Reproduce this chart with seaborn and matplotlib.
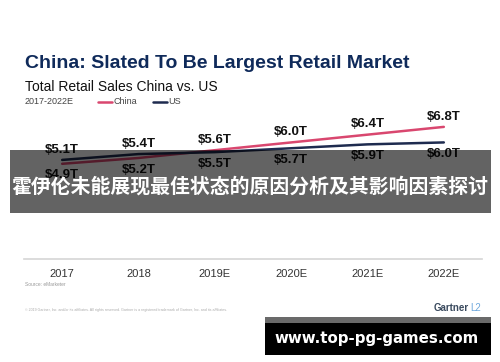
import matplotlib
matplotlib.use("Agg")
import matplotlib.pyplot as plt
import matplotlib.patches as mpatches
import pandas as pd
import seaborn as sns

# data
years = ["2017", "2018", "2019E", "2020E", "2021E", "2022E"]
china = [4.9, 5.2, 5.6, 6.0, 6.4, 6.8]
us = [5.1, 5.4, 5.5, 5.7, 5.9, 6.0]

PINK = "#d9476f"
NAVY = "#1e2b4f"

df = pd.DataFrame({
    "year": years * 2,
    "x": list(range(len(years))) * 2,
    "sales": china + us,
    "series": ["China"] * len(years) + ["US"] * len(years),
})

sns.set_theme(style="white")
plt.rcParams["font.family"] = ["Liberation Sans", "DejaVu Sans"]

W, H = 500, 362
fig = plt.figure(figsize=(W / 100, H / 100), dpi=100)
ax = fig.add_axes([24 / W, 1 - 259 / H, (482 - 24) / W, (259 - 123) / H])

sns.lineplot(data=df, x="x", y="sales", hue="series",
             palette={"China": PINK, "US": NAVY}, linewidth=1.8,
             legend=False, ax=ax)

ax.set_xlim(-0.5, len(years) - 0.5)
ax.set_ylim(0, 7)
ax.set_xticks(range(len(years)))
ax.set_xticklabels(years, fontsize=8, color="#333333")
ax.tick_params(axis="x", length=0, pad=7)
ax.set_yticks([])
ax.set_xlabel("")
ax.set_ylabel("")
for s in ["top", "left", "right"]:
    ax.spines[s].set_visible(False)
ax.spines["bottom"].set_color("#d5d5d5")
ax.spines["bottom"].set_linewidth(1.2)

# value labels: higher one above, lower one below
for i in range(len(years)):
    hi, lo = max(china[i], us[i]), min(china[i], us[i])
    ax.annotate(f"${hi:.1f}T", (i, hi), xytext=(0, 3), textcoords="offset points",
                ha="center", va="bottom", fontsize=9.5, fontweight="bold", color="#111111")
    ax.annotate(f"${lo:.1f}T", (i, lo), xytext=(0, -4), textcoords="offset points",
                ha="center", va="top", fontsize=9.5, fontweight="bold", color="#111111")

def fx(px):
    return px / W

def fy(py):
    return 1 - py / H

fig.text(fx(25), fy(63), "China: Slated To Be Largest Retail Market", fontsize=14,
         fontweight="bold", color="#0f2a5a", va="center", ha="left")
fig.text(fx(25), fy(87), "Total Retail Sales China vs. US", fontsize=10,
         color="#111111", va="center", ha="left")
fig.text(fx(25), fy(102), "2017-2022E", fontsize=6.5, color="#444444", va="center", ha="left")
fig.add_artist(plt.Line2D([fx(98), fx(112)], [fy(102), fy(102)], color=PINK, lw=1.8))
fig.text(fx(113), fy(102), "China", fontsize=6.5, color="#444444", va="center", ha="left")
fig.add_artist(plt.Line2D([fx(153), fx(167)], [fy(102), fy(102)], color=NAVY, lw=1.8))
fig.text(fx(168), fy(102), "US", fontsize=6.5, color="#444444", va="center", ha="left")

fig.text(fx(25), fy(285), "Source: eMarketer", fontsize=3.5, color="#999999", va="center")
fig.text(fx(25), fy(310),
         "\u00a9 2019 Gartner, Inc. and/or its affiliates. All rights reserved. Gartner is a "
         "registered trademark of Gartner, Inc. and its affiliates.",
         fontsize=2.6, color="#aaaaaa", va="center")
fig.text(fx(469), fy(308), "Gartner", fontsize=7, fontweight="bold", color="#3a4a5e",
         va="center", ha="right")
fig.text(fx(470), fy(308), "L2", fontsize=7, color="#6fa8dc", va="center", ha="left")

# overlay banners
fig.add_artist(mpatches.Rectangle((fx(10), fy(213)), (491 - 10) / W, (213 - 150) / H,
                                  transform=fig.transFigure, facecolor="black",
                                  alpha=0.61, edgecolor="none"))
fig.text(fx(250), fy(186), "霍伊伦未能展现最佳状态的原因分析及其影响因素探讨",
         fontsize=14.3, fontweight="bold", color="white", ha="center", va="center",
         family=["Noto Sans CJK SC", "DejaVu Sans"])

fig.add_artist(mpatches.Rectangle((fx(265), fy(323)), (491 - 265) / W, (323 - 317) / H,
                                  transform=fig.transFigure, facecolor="#6a6a6a",
                                  edgecolor="none"))
fig.add_artist(mpatches.Rectangle((fx(265), fy(355)), (491 - 265) / W, (355 - 323) / H,
                                  transform=fig.transFigure, facecolor="black",
                                  edgecolor="none"))
fig.text(fx(377), fy(338), "www.top-pg-games.com", fontsize=10.8, fontweight="bold",
         color="white", ha="center", va="center", family=["DejaVu Sans"])

fig.savefig("out.png", dpi=100)
